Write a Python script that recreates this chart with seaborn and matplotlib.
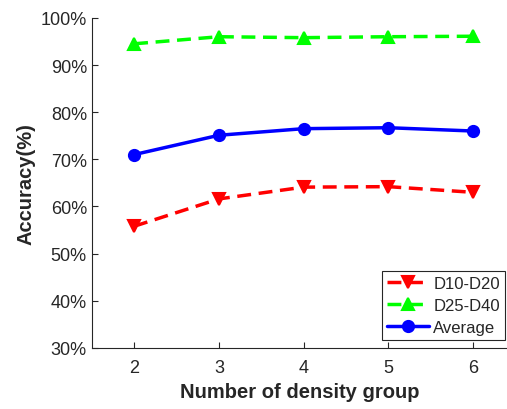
import matplotlib
matplotlib.use("Agg")
import matplotlib.pyplot as plt
import seaborn as sns
import pandas as pd

groups = [2, 3, 4, 5, 6]
d10_d20 = [55.8, 61.6, 64.1, 64.2, 63.0]
d25_d40 = [94.5, 96.0, 95.8, 96.0, 96.1]
average = [71.0, 75.1, 76.5, 76.7, 76.0]
yticks = [30, 40, 50, 60, 70, 80, 90, 100]

sns.set_theme(style="ticks")
plt.rcParams['font.family'] = ['Liberation Sans', 'DejaVu Sans']

fig = plt.figure(figsize=(5.07, 4.10), dpi=100)
ax = fig.add_axes([0.181, 0.149, 0.819, 0.805])

series = [
    ("D10-D20", d10_d20, "#ff0000", "v", (4, 2.2)),
    ("D25-D40", d25_d40, "#00ff00", "^", (4, 2.2)),
    ("Average", average, "#0000ff", "o", None),
]
for name, vals, color, marker, dash in series:
    df = pd.DataFrame({"x": groups, "y": vals})
    kw = dict(dashes=dash) if dash else {}
    sns.lineplot(data=df, x="x", y="y", ax=ax, color=color, marker=marker,
                 markersize=8, markeredgecolor=color, markeredgewidth=1.5,
                 linewidth=2.5, label=name, **kw)

ax.set_xlim(1.5, 6.4)
ax.set_ylim(30, 100)
ax.set_xticks(groups)
ax.set_yticks(yticks)
ax.set_yticklabels([f"{v}%" for v in yticks])
ax.tick_params(axis="both", labelsize=13, colors="#262626", direction="in", length=4, width=0.8)
ax.tick_params(axis="x", pad=8)
for s in ["top", "right"]:
    ax.spines[s].set_visible(False)
for s in ["left", "bottom"]:
    ax.spines[s].set_color("#262626")
    ax.spines[s].set_linewidth(0.8)
ax.set_xlabel("Number of density group", fontsize=14.5, fontweight="bold", color="#262626")
ax.set_ylabel("Accuracy(%)", fontsize=14.5, fontweight="bold", color="#262626")

leg = ax.legend(loc="lower right", fontsize=12, frameon=True, fancybox=False,
                edgecolor="#262626", framealpha=1, borderpad=0.3, labelspacing=0.4,
                handlelength=2.5, handletextpad=0.25, borderaxespad=0,
                bbox_to_anchor=(0.995, 0.025))
leg.get_frame().set_linewidth(0.8)

fig.savefig("out.png", dpi=100)
